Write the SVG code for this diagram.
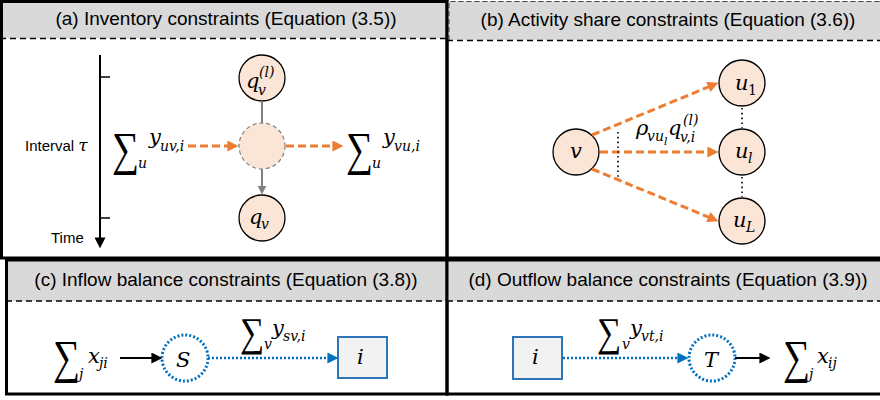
<svg xmlns="http://www.w3.org/2000/svg" width="880" height="400" viewBox="0 0 880 400">
<defs>
<style>
.hdr{fill:#D9D9D9}
.frame{fill:none;stroke:#000;stroke-width:3}
.dash{stroke:#000;stroke-width:1.5;stroke-dasharray:6 4;fill:none}
.ht{font-family:"Liberation Sans",Arial,sans-serif;font-size:19px;fill:#000;text-anchor:middle}
.lt{font-family:"Liberation Sans",Arial,sans-serif;font-size:15px;fill:#000}
.m{font-family:"DejaVu Serif","Liberation Serif",serif;font-style:italic;font-size:21px;fill:#000}
.s{font-size:14px}
.ss{font-size:11px}
.sig{font-family:"Liberation Serif",serif;font-style:normal;font-size:38px;fill:#000}
.sig2{font-family:"Liberation Serif",serif;font-style:normal;font-size:34px;fill:#000}
.up{font-style:normal}
.node{fill:#FBE5D6;stroke:#000;stroke-width:1.3}
.orange{stroke:#ED7D31;stroke-width:3;stroke-dasharray:8 4;fill:none}
.gray{stroke:#7F7F7F;stroke-width:2;fill:none}
.blk{stroke:#000;stroke-width:2;fill:none}
.bdot{stroke:#0070C0;stroke-width:2.5;stroke-dasharray:2 2;fill:none}
.kdot{stroke:#000;stroke-width:1.6;stroke-dasharray:1.6 3.2;fill:none}
.box{fill:#F2F2F2;stroke:#2E75B6;stroke-width:2}
</style>
<marker id="aO" viewBox="0 0 10 10" refX="6" refY="5" markerWidth="11" markerHeight="11" markerUnits="userSpaceOnUse" orient="auto"><path d="M0,0 L10,5 L0,10 z" fill="#ED7D31"/></marker>
<marker id="aG" viewBox="0 0 10 10" refX="6" refY="5" markerWidth="9" markerHeight="9" markerUnits="userSpaceOnUse" orient="auto"><path d="M0,0 L10,5 L0,10 z" fill="#7F7F7F"/></marker>
<marker id="aK" viewBox="0 0 10 10" refX="6" refY="5" markerWidth="11" markerHeight="11" markerUnits="userSpaceOnUse" orient="auto"><path d="M0,0 L10,5 L0,10 z" fill="#000"/></marker>
<marker id="aB" viewBox="0 0 10 10" refX="6" refY="5" markerWidth="11" markerHeight="11" markerUnits="userSpaceOnUse" orient="auto"><path d="M0,0 L10,5 L0,10 z" fill="#0070C0"/></marker>
</defs>
<rect width="880" height="400" fill="#fff"/>

<!-- panel frames and headers -->
<g id="panel-a">
<rect class="hdr" x="1.5" y="1.5" width="445" height="37"/>
<line class="dash" x1="0" y1="38.5" x2="447" y2="38.5"/>
<rect class="frame" x="1.5" y="1.5" width="445.5" height="256.5"/>
<text class="ht" x="226" y="25">(a) Inventory constraints (Equation (3.5))</text>
</g>
<g id="panel-b">
<rect class="hdr" x="448" y="1" width="432" height="39"/>
<path d="M449,40 V1.5 H880" fill="none" stroke="#404040" stroke-width="1" stroke-dasharray="5 3"/>
<line class="dash" x1="447" y1="40.5" x2="880" y2="40.5"/>
<line x1="447" y1="258" x2="880" y2="258" stroke="#000" stroke-width="3"/>
<text class="ht" x="668" y="26">(b) Activity share constraints (Equation (3.6))</text>
</g>
<g id="panel-c">
<rect class="hdr" x="6.5" y="261" width="440" height="40"/>
<line class="dash" x1="6" y1="301" x2="447" y2="301"/>
<rect class="frame" x="6.5" y="260" width="440.5" height="134"/>
<text class="ht" x="226" y="286">(c) Inflow balance constraints (Equation (3.8))</text>
</g>
<g id="panel-d">
<rect class="hdr" x="447" y="261" width="433" height="40"/>
<line class="dash" x1="447" y1="301" x2="880" y2="301"/>
<path d="M447,260 H880 M447,394 H880" stroke="#000" stroke-width="3" fill="none"/>
<text class="ht" x="668" y="286">(d) Outflow balance constraints (Equation (3.9))</text>
</g>
<line x1="447" y1="0" x2="447" y2="395.5" stroke="#000" stroke-width="3"/>

<!-- panel (a) content -->
<g id="timeline">
<line class="blk" x1="100" y1="55" x2="100" y2="244" marker-end="url(#aK)"/>
<line x1="100" y1="77" x2="110" y2="77" stroke="#000" stroke-width="1.5"/>
<line x1="100" y1="218" x2="110" y2="218" stroke="#000" stroke-width="1.5"/>
<text class="lt" x="25" y="151">Interval <tspan font-family="DejaVu Serif,serif" font-style="italic" font-size="17">τ</tspan></text>
<text class="lt" x="51" y="243">Time</text>
</g>
<g id="node-qvl">
<circle class="node" cx="262" cy="78" r="23"/>
<text class="m"><tspan x="246" y="88">q</tspan><tspan class="s" x="258" y="95">v</tspan><tspan class="s" x="259" y="77">(l)</tspan></text>
</g>
<g id="node-mid">
<circle cx="262" cy="146" r="23" fill="#FBE5D6" stroke="#7F7F7F" stroke-width="1.2" stroke-dasharray="4 3"/>
</g>
<g id="node-qv">
<circle class="node" cx="262" cy="218" r="23"/>
<text class="m"><tspan x="249" y="224">q</tspan><tspan class="s" x="261" y="229">v</tspan></text>
</g>
<g id="sum-in-a">
<text class="sig" transform="translate(112,165) scale(1,1.25)">∑</text>
<text class="m"><tspan class="s" x="138" y="168">u</tspan><tspan x="149" y="144">y</tspan><tspan class="s" x="160" y="151">uv,i</tspan></text>
</g>
<g id="sum-out-a">
<text class="sig" transform="translate(346,165) scale(1,1.25)">∑</text>
<text class="m"><tspan class="s" x="372" y="168">u</tspan><tspan x="383" y="144">y</tspan><tspan class="s" x="394" y="151">vu,i</tspan></text>
</g>

<!-- panel (b) nodes -->
<g id="node-v">
<circle class="node" cx="576" cy="152" r="23"/>
<text class="m" x="570" y="158">v</text>
</g>
<g id="node-u1">
<circle class="node" cx="742" cy="83" r="23"/>
<text class="m"><tspan x="735" y="90">u</tspan><tspan class="s up" x="748" y="95">1</tspan></text>
</g>
<g id="node-ul">
<circle class="node" cx="742" cy="152" r="23"/>
<text class="m"><tspan x="735" y="158">u</tspan><tspan class="s" x="748" y="163">l</tspan></text>
</g>
<g id="node-uL">
<circle class="node" cx="742" cy="221" r="23"/>
<text class="m"><tspan x="733" y="227">u</tspan><tspan class="s" x="746" y="232">L</tspan></text>
</g>
<g id="label-b">
<text class="m"><tspan x="636" y="135">ρ</tspan><tspan class="s" x="647" y="141">vu</tspan><tspan class="ss" x="664" y="145">l</tspan><tspan x="668" y="135">q</tspan><tspan class="s" x="680" y="142">v,i</tspan><tspan class="s" x="683" y="125">(l)</tspan></text>
</g>

<!-- panel (c) -->
<g id="sum-c-left">
<text class="sig" transform="translate(53,373) scale(1,1.25)">∑</text>
<text class="m"><tspan class="s" x="79" y="379">j</tspan><tspan x="88" y="363">x</tspan><tspan class="s" x="99" y="368">ji</tspan></text>
</g>
<g id="node-S">
<circle cx="185" cy="358" r="23" fill="#fff" class="bdot" style="stroke-width:3"/>
<text class="m" x="176" y="367" font-size="24">S</text>
</g>
<g id="node-i-c">
<rect class="box" x="338" y="337" width="49" height="41"/>
<text class="m" x="357" y="364">i</text>
</g>
<g id="label-c">
<text class="sig2" transform="translate(240,346) scale(1,1.2)">∑</text>
<text class="m"><tspan class="s" x="264" y="349">v</tspan><tspan x="272" y="335">y</tspan><tspan class="s" x="283" y="341">sv,i</tspan></text>
</g>

<!-- panel (d) -->
<g id="node-i-d">
<rect class="box" x="513" y="337" width="49" height="42"/>
<text class="m" x="532" y="364">i</text>
</g>
<g id="node-T">
<circle cx="712" cy="358" r="23" fill="#fff" class="bdot" style="stroke-width:3"/>
<text class="m" x="704" y="367" font-size="24">T</text>
</g>
<g id="label-d">
<text class="sig2" transform="translate(597,346) scale(1,1.2)">∑</text>
<text class="m"><tspan class="s" x="622" y="349">v</tspan><tspan x="630" y="335">y</tspan><tspan class="s" x="641" y="341">vt,i</tspan></text>
</g>
<g id="sum-d-right">
<text class="sig" transform="translate(783,373) scale(1,1.25)">∑</text>
<text class="m"><tspan class="s" x="809" y="379">j</tspan><tspan x="817" y="363">x</tspan><tspan class="s" x="828" y="368">ij</tspan></text>
</g>

<!-- connectors -->
<g id="connectors">
<line class="gray" x1="262" y1="101" x2="262" y2="123"/>
<line class="gray" x1="262" y1="169" x2="262" y2="191" marker-end="url(#aG)"/>
<line class="orange" x1="188" y1="146" x2="234" y2="146" marker-end="url(#aO)"/>
<line class="orange" x1="286" y1="146" x2="339" y2="146" marker-end="url(#aO)"/>
<line class="orange" x1="592" y1="135" x2="714.3" y2="84.5" marker-end="url(#aO)"/>
<line class="orange" x1="600" y1="152" x2="714" y2="152" marker-end="url(#aO)"/>
<line class="orange" x1="592" y1="169" x2="714.3" y2="219.5" marker-end="url(#aO)"/>
<line class="kdot" x1="618" y1="132" x2="618" y2="178"/>
<line class="kdot" x1="742" y1="108" x2="742" y2="128"/>
<line class="kdot" x1="742" y1="177" x2="742" y2="197"/>
<line class="blk" x1="120" y1="358" x2="158" y2="358" marker-end="url(#aK)"/>
<line class="bdot" x1="208" y1="358" x2="334" y2="358" marker-end="url(#aB)"/>
<line class="bdot" x1="563" y1="358" x2="684" y2="358" marker-end="url(#aB)"/>
<line class="blk" x1="735" y1="358" x2="766" y2="358" marker-end="url(#aK)"/>
</g>
</svg>
